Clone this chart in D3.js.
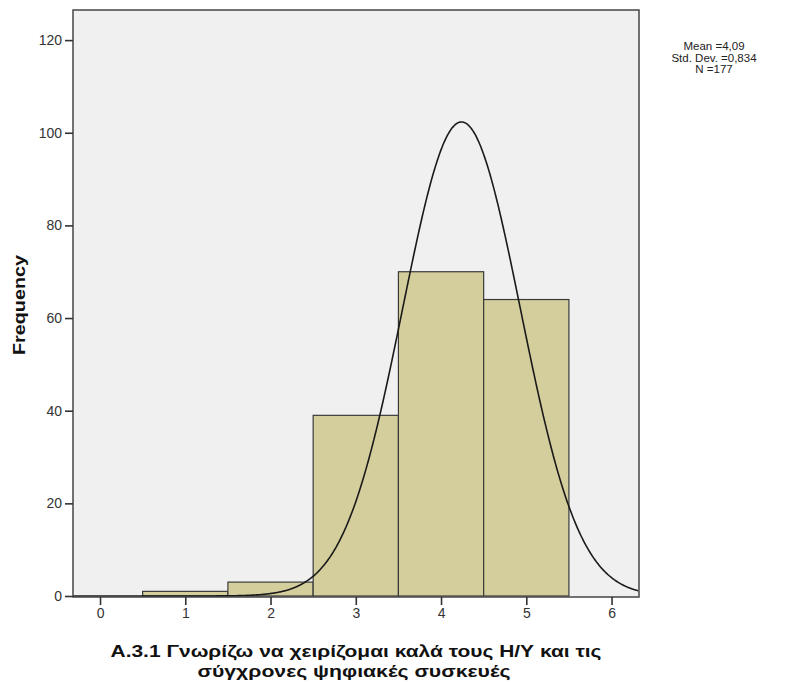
<!DOCTYPE html>
<html>
<head>
<meta charset="utf-8">
<script src="https://cdn.jsdelivr.net/npm/d3@7/dist/d3.min.js"></script>
<style>
  html, body { margin: 0; padding: 0; background: #ffffff; }
  svg { display: block; }
  text { font-family: "Liberation Sans", Arial, sans-serif; }
</style>
</head>
<body>
<svg id="chart" width="801" height="684"></svg>
<script>
// Histogram bins (response score) and their frequencies
const binCenters = [1, 2, 3, 4, 5];
const frequencies = [1, 3, 39, 70, 64];
const binWidth = 1;

// Axis ticks
const xTicks = [0, 1, 2, 3, 4, 5, 6];
const yTicks = [0, 20, 40, 60, 80, 100, 120];

// Normal curve overlay parameters
const curveMean = 4.24;
const curveSd = 0.69;
const curveN = 177;

// Summary text
const statsLines = ["Mean =4,09", "Std. Dev. =0,834", "N =177"];
const xTitleLines = ["A.3.1 Γνωρίζω να χειρίζομαι καλά τους Η/Υ και τις", "σύγχρονες ψηφιακές συσκευές"];
const xTitleWidths = [491, 313];
const yTitle = "Frequency";

const svg = d3.select("#chart");
const plot = { left: 73, top: 10, right: 639, bottom: 597 };

const x = d3.scaleLinear().domain([-0.317, 6.322]).range([plot.left, plot.right]);
const y = d3.scaleLinear().domain([0, 126.5]).range([plot.bottom - 1, plot.top]);

// Plot background
svg.append("rect")
  .attr("x", plot.left).attr("y", plot.top)
  .attr("width", plot.right - plot.left).attr("height", plot.bottom - plot.top)
  .attr("fill", "#f0f0f0");

// Bars
svg.append("g").selectAll("rect")
  .data(binCenters.map((c, i) => ({ c, f: frequencies[i] })))
  .join("rect")
  .attr("x", d => x(d.c - binWidth / 2))
  .attr("y", d => y(d.f))
  .attr("width", d => x(d.c + binWidth / 2) - x(d.c - binWidth / 2))
  .attr("height", d => y(0) - y(d.f))
  .attr("fill", "#d3ce9c")
  .attr("stroke", "#3a3a3a")
  .attr("stroke-width", 1.2);

// Normal curve
const curvePts = d3.range(-0.317, 6.322, 0.01).map(v => [
  v,
  curveN * binWidth / (curveSd * Math.sqrt(2 * Math.PI)) *
    Math.exp(-((v - curveMean) ** 2) / (2 * curveSd * curveSd))
]);
svg.append("path")
  .datum(curvePts)
  .attr("fill", "none")
  .attr("stroke", "#1a1a1a")
  .attr("stroke-width", 1.6)
  .attr("d", d3.line().x(d => x(d[0])).y(d => y(d[1])).curve(d3.curveBasis));

// Frame
svg.append("rect")
  .attr("x", plot.left).attr("y", plot.top)
  .attr("width", plot.right - plot.left).attr("height", plot.bottom - plot.top)
  .attr("fill", "none")
  .attr("stroke", "#454545")
  .attr("stroke-width", 1.5);

// Y axis
const yAxis = svg.append("g")
  .attr("transform", `translate(${plot.left},0)`)
  .call(d3.axisLeft(y).tickValues(yTicks).tickSize(8).tickPadding(3).tickFormat(d3.format("d")));
yAxis.select(".domain").remove();
yAxis.selectAll(".tick line").attr("stroke", "#333").attr("stroke-width", 1.6);
yAxis.selectAll(".tick text").attr("fill", "#333").attr("font-size", 14)
  .style("font-family", "'Liberation Sans', Arial, sans-serif");

// X axis
const xAxis = svg.append("g")
  .attr("transform", `translate(0,${plot.bottom})`)
  .call(d3.axisBottom(x).tickValues(xTicks).tickSize(8).tickPadding(3).tickFormat(d3.format("d")));
xAxis.select(".domain").remove();
xAxis.selectAll(".tick line").attr("stroke", "#333").attr("stroke-width", 1.6);
xAxis.selectAll(".tick text").attr("fill", "#333").attr("font-size", 14)
  .style("font-family", "'Liberation Sans', Arial, sans-serif");

// Axis titles
svg.append("text")
  .attr("transform", "translate(25,305) rotate(-90)")
  .attr("text-anchor", "middle")
  .attr("font-size", 16.5).attr("font-weight", "bold").attr("fill", "#111")
  .attr("textLength", 100).attr("lengthAdjust", "spacingAndGlyphs")
  .text(yTitle);

svg.append("g").selectAll("text")
  .data(xTitleLines)
  .join("text")
  .attr("x", (d, i) => i === 0 ? 356 : 354)
  .attr("y", (d, i) => 657 + i * 19.5)
  .attr("text-anchor", "middle")
  .attr("font-size", 17).attr("font-weight", "bold").attr("fill", "#111")
  .attr("textLength", (d, i) => xTitleWidths[i]).attr("lengthAdjust", "spacingAndGlyphs")
  .text(d => d);

// Summary statistics
svg.append("g").selectAll("text")
  .data(statsLines)
  .join("text")
  .attr("x", 714)
  .attr("y", (d, i) => 50 + i * 11.5)
  .attr("text-anchor", "middle")
  .attr("font-size", 11.5).attr("fill", "#222")
  .text(d => d);
</script>
</body>
</html>
